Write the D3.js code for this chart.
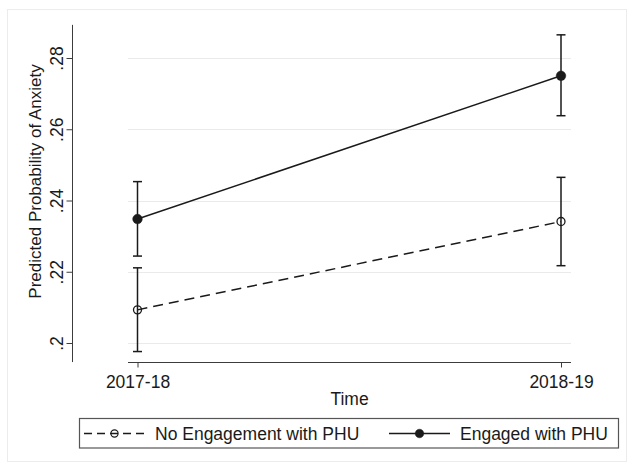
<!DOCTYPE html>
<html>
<head>
<meta charset="utf-8">
<script src="https://cdn.jsdelivr.net/npm/d3@7/dist/d3.min.js"></script>
<style>
  html, body { margin: 0; padding: 0; background: #fff; }
  svg text { font-family: "Liberation Sans", Arial, Helvetica, sans-serif; fill: #1a1a1a; }
</style>
</head>
<body>
<svg id="chart" width="634" height="466"></svg>
<script>
// Survey waves
const categories = ["2017-18", "2018-19"];
const seriesNames = ["No Engagement with PHU", "Engaged with PHU"];

// Predicted probabilities with 95% confidence limits
const noEngageMean = [0.2093, 0.2341];
const noEngageLow  = [0.1976, 0.2217];
const noEngageHigh = [0.2211, 0.2465];

const engagedMean = [0.2348, 0.2750];
const engagedLow  = [0.2244, 0.2638];
const engagedHigh = [0.2453, 0.2865];

// Y axis ticks
const yTickValues = [0.2, 0.22, 0.24, 0.26, 0.28];
const yTickLabels = [".2", ".22", ".24", ".26", ".28"];

const svg = d3.select("#chart");
const ink = "#1a1a1a";
const axisInk = "#3c3c3c";
const fontSize = 17.5;

// Outer graph frame
svg.append("rect")
  .attr("x", 7.5).attr("y", 9.5)
  .attr("width", 619).attr("height", 452)
  .attr("fill", "#fff").attr("stroke", "#ececec").attr("stroke-width", 1);

const plotLeft = 128, plotRight = 571;
const yAxisX = 72.5, xAxisY = 362.5;

const x = d3.scalePoint().domain(categories).range([137.5, 561]);
const y = d3.scaleLinear().domain([0.2, 0.28]).range([343, 58]);
const yAxisExtent = [0.19465, 0.2893];

// Gridlines
svg.append("g").selectAll("line")
  .data(yTickValues).join("line")
  .attr("x1", plotLeft).attr("x2", plotRight)
  .attr("y1", d => Math.round(y(d)) + 0.5).attr("y2", d => Math.round(y(d)) + 0.5)
  .attr("stroke", "#eaeaea").attr("stroke-width", 1);

// Y axis
const yAxis = d3.axisLeft(y)
  .tickValues(yTickValues)
  .tickFormat((d, i) => yTickLabels[i])
  .tickSize(6).tickSizeOuter(0);
const gy = svg.append("g").attr("transform", `translate(${yAxisX},0)`).call(yAxis);
gy.select(".domain").remove();
gy.selectAll(".tick line").attr("stroke", axisInk);
gy.selectAll(".tick text")
  .attr("transform", "rotate(-90)")
  .attr("x", 0).attr("y", -9.5).attr("dy", null)
  .attr("text-anchor", "middle")
  .style("font-size", fontSize + "px")
  .style("font-family", "'Liberation Sans', Arial, sans-serif")
  .attr("fill", ink);
gy.append("line")
  .attr("x1", 0).attr("x2", 0)
  .attr("y1", y(yAxisExtent[1])).attr("y2", y(yAxisExtent[0]))
  .attr("stroke", axisInk).attr("stroke-width", 1);

// X axis
const xAxis = d3.axisBottom(x).tickSize(5).tickSizeOuter(0);
const gx = svg.append("g").attr("transform", `translate(0,${xAxisY})`).call(xAxis);
gx.select(".domain").remove();
gx.selectAll(".tick line").attr("stroke", axisInk);
gx.selectAll(".tick text")
  .attr("y", 25.5).attr("dy", null)
  .style("font-size", fontSize + "px")
  .style("font-family", "'Liberation Sans', Arial, sans-serif")
  .attr("fill", ink);
gx.append("line")
  .attr("x1", plotLeft).attr("x2", plotRight)
  .attr("y1", 0).attr("y2", 0)
  .attr("stroke", axisInk).attr("stroke-width", 1);

// Axis titles
svg.append("text")
  .attr("x", (plotLeft + plotRight) / 2).attr("y", 405)
  .attr("text-anchor", "middle")
  .style("font-size", fontSize + "px")
  .text("Time");

svg.append("text")
  .attr("transform", `translate(41,${(y(yAxisExtent[0]) + y(yAxisExtent[1])) / 2 - 12}) rotate(-90)`)
  .attr("text-anchor", "middle")
  .style("font-size", "17px")
  .text("Predicted Probability of Anxiety");

// Series
const series = [
  { name: seriesNames[0], mean: noEngageMean, low: noEngageLow, high: noEngageHigh, dash: "10,6", filled: false },
  { name: seriesNames[1], mean: engagedMean, low: engagedLow, high: engagedHigh, dash: null, filled: true }
];

const line = d3.line().x(d => x(d.cat)).y(d => y(d.v));
const capHalf = 4.5;

series.forEach(s => {
  const pts = categories.map((c, i) => ({ cat: c, v: s.mean[i], lo: s.low[i], hi: s.high[i] }));
  const g = svg.append("g");

  g.append("path")
    .attr("d", line(pts))
    .attr("fill", "none")
    .attr("stroke", ink).attr("stroke-width", 1.5)
    .attr("stroke-dasharray", s.dash);

  // Confidence interval caps
  const bars = g.selectAll(".ci").data(pts).join("g").attr("class", "ci");
  bars.append("line")
    .attr("x1", d => x(d.cat)).attr("x2", d => x(d.cat))
    .attr("y1", d => y(d.hi)).attr("y2", d => y(d.lo))
    .attr("stroke", ink).attr("stroke-width", 1.5);
  bars.append("line")
    .attr("x1", d => x(d.cat) - capHalf).attr("x2", d => x(d.cat) + capHalf)
    .attr("y1", d => y(d.hi)).attr("y2", d => y(d.hi))
    .attr("stroke", ink).attr("stroke-width", 1.5);
  bars.append("line")
    .attr("x1", d => x(d.cat) - capHalf).attr("x2", d => x(d.cat) + capHalf)
    .attr("y1", d => y(d.lo)).attr("y2", d => y(d.lo))
    .attr("stroke", ink).attr("stroke-width", 1.5);

  g.selectAll("circle").data(pts).join("circle")
    .attr("cx", d => x(d.cat)).attr("cy", d => y(d.v))
    .attr("r", s.filled ? 4.8 : 4)
    .attr("fill", s.filled ? ink : "none")
    .attr("stroke", ink).attr("stroke-width", s.filled ? 0.5 : 1.3);
});

// Legend
const legend = svg.append("g");
legend.append("rect")
  .attr("x", 79.5).attr("y", 418.5)
  .attr("width", 539).attr("height", 29.5)
  .attr("fill", "#fff").attr("stroke", "#555").attr("stroke-width", 1.2);

const legendItems = [
  { s: series[0], x0: 84, x1: 145, tx: 155 },
  { s: series[1], x0: 389, x1: 450, tx: 460 }
];
const ly = 433.5;
legendItems.forEach(it => {
  legend.append("line")
    .attr("x1", it.x0).attr("x2", it.x1)
    .attr("y1", ly).attr("y2", ly)
    .attr("stroke", ink).attr("stroke-width", 1.5)
    .attr("stroke-dasharray", it.s.dash ? "8,5" : null);
  legend.append("circle")
    .attr("cx", (it.x0 + it.x1) / 2).attr("cy", ly)
    .attr("r", it.s.filled ? 4.3 : 3.6)
    .attr("fill", it.s.filled ? ink : "none")
    .attr("stroke", ink).attr("stroke-width", it.s.filled ? 0.5 : 1.2);
  legend.append("text")
    .attr("x", it.tx).attr("y", 439.5)
    .style("font-size", fontSize + "px")
    .text(it.s.name);
});
</script>
</body>
</html>
